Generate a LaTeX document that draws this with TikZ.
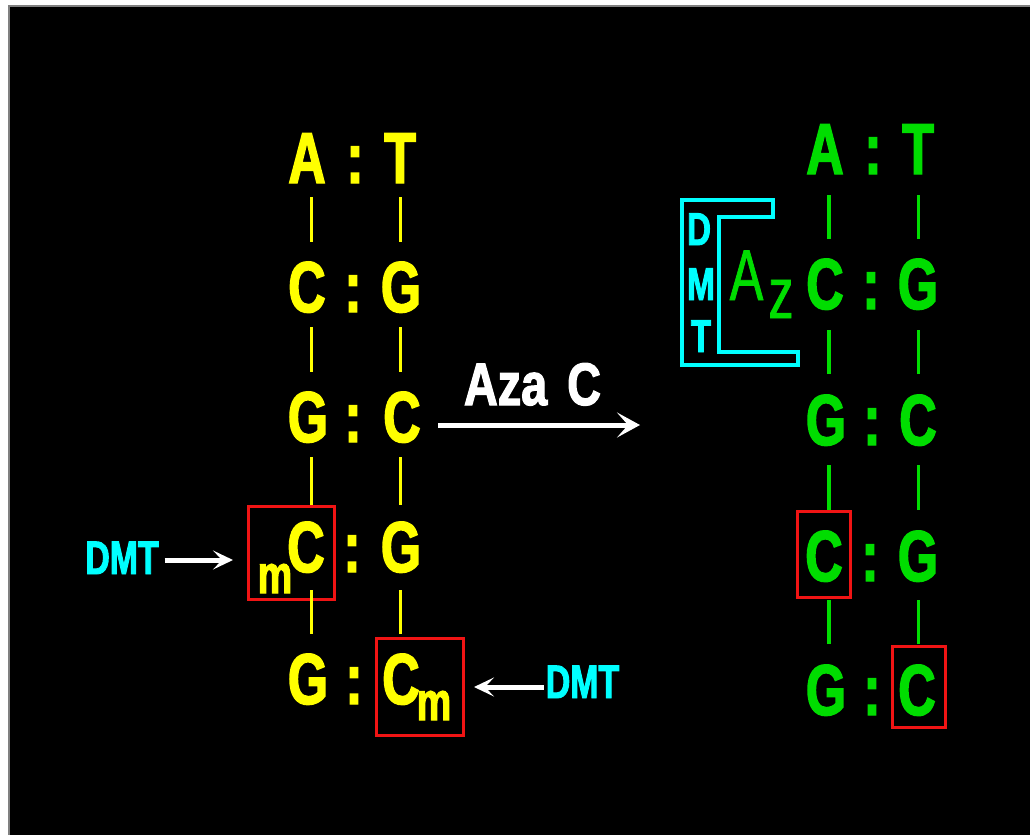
\documentclass[tikz,border=0pt]{standalone}
\usepackage{fontspec}
\setmainfont{Liberation Sans}
\newfontfamily\nar[FakeStretch=0.72,FakeBold=2]{Liberation Sans}
\newfontfamily\narr[FakeStretch=0.70,FakeBold=1]{Liberation Sans}
\newfontfamily\narw[FakeStretch=0.78,FakeBold=2]{Liberation Sans}
\usetikzlibrary{arrows.meta,calc}
\definecolor{dnaY}{RGB}{255,255,0}
\definecolor{dnaG}{RGB}{0,221,0}
\definecolor{dmtC}{RGB}{0,255,255}
\definecolor{boxR}{RGB}{240,20,20}
\newcommand\bondln[6]{\draw[#1] let \p1=(#2.south), \p2=(#3.north) in (#4pt,\y1-#5pt) -- (#4pt,\y2+#6pt);}
\begin{document}
\begin{tikzpicture}[x=1pt,y=-1pt,
  base/.style={inner sep=0pt, outer sep=0pt, anchor=base, text height=52pt, text depth=0pt},
  bigfont/.style={font=\nar\bfseries\fontsize{72pt}{72pt}\selectfont},
  Ylet/.style={base, bigfont, text=dnaY},
  Glet/.style={base, bigfont, text=dnaG},
  subY/.style={inner sep=0pt, anchor=base, text=dnaY, font=\nar\bfseries\fontsize{54pt}{54pt}\selectfont},
  dmtlabel/.style={inner sep=0pt, outer sep=0pt, anchor=base, text=dmtC, font=\nar\bfseries\fontsize{47pt}{47pt}\selectfont},
  dmtv/.style={inner sep=0pt, anchor=base, text=dmtC, font=\nar\bfseries\fontsize{46pt}{46pt}\selectfont},
  azfont/.style={inner sep=0pt, anchor=base, text=dnaG, font=\narr\fontsize{72pt}{72pt}\selectfont},
  bondY/.style={draw=dnaY, line width=3.5pt},
  bondG/.style={draw=dnaG, line width=3.5pt},
  redbox/.style={draw=boxR, line width=3pt, inner sep=0pt, outer sep=0pt},
  whitearrow/.style={draw=white, line width=5pt, -{Stealth[length=20pt,width=19pt,inset=9pt]}},
  mainarrow/.style={draw=white, line width=5pt, -{Stealth[length=23pt,width=25pt,inset=11pt]}},
  bracket/.style={draw=dmtC, line width=4pt, line join=miter}
]
\useasboundingbox (0,0) rectangle (1030,835);
\fill[white] (0,0) rectangle (1030,835);
\fill[black] (9,6) rectangle (1030,835);
\draw[gray, line width=1.5pt] (9,835) -- (9,6) -- (1030,6);

% red boxes
\node[redbox, minimum width=86pt, minimum height=93pt] (b1) at (291,552.5) {};
\node[redbox, minimum width=87pt, minimum height=97pt] (b2) at (419.5,686.5) {};
\node[redbox, minimum width=53pt, minimum height=86pt] (b3) at (823.5,554) {};
\node[redbox, minimum width=53pt, minimum height=81pt] (b4) at (918.5,686.5) {};

% left strand (yellow)
\node[Ylet] (lA1) at (307,183) {A};
\node[Ylet] (lc1) at (355,183) {:};
\node[Ylet] (lT1) at (400,183) {T};
\node[Ylet] (lC2) at (307,312) {C};
\node[Ylet] (lc2) at (353,312) {:};
\node[Ylet] (lG2) at (401,312) {G};
\node[Ylet] (lG3) at (308,442) {G};
\node[Ylet] (lc3) at (353,442) {:};
\node[Ylet] (lC3) at (402,442) {C};
\node[Ylet] (lC4) at (306,572) {C};
\node[subY] (lm4) at (275,593) {m};
\node[Ylet] (lc4) at (352,572) {:};
\node[Ylet] (lG4) at (401,572) {G};
\node[Ylet] (lG5) at (308,704) {G};
\node[Ylet] (lc5) at (354,704) {:};
\node[Ylet] (lC5) at (401,704) {C};
\node[subY] (lm5) at (434,720) {m};

\bondln{bondY}{lA1}{lC2}{311.5}{14}{18}
\bondln{bondY}{lT1}{lG2}{400.5}{14}{18}
\bondln{bondY}{lC2}{lG3}{311.5}{15}{18}
\bondln{bondY}{lG2}{lC3}{400.5}{15}{18}
\bondln{bondY}{lG3}{lC4}{311.5}{15}{15}
\bondln{bondY}{lC3}{lG4}{400.5}{15}{15}
\bondln{bondY}{lC4}{lG5}{311.5}{18}{18}
\bondln{bondY}{lG4}{lC5}{400.5}{18}{18}

% right strand (green)
\node[Glet] (rA1) at (825,174) {A};
\node[Glet] (rc1) at (873,174) {:};
\node[Glet] (rT1) at (918,174) {T};
\node[Glet] (rC2) at (825,309) {C};
\node[Glet] (rc2) at (871,309) {:};
\node[Glet] (rG2) at (918,309) {G};
\node[Glet] (rG3) at (826,445) {G};
\node[Glet] (rc3) at (872,445) {:};
\node[Glet] (rC3) at (918,445) {C};
\node[Glet] (rC4) at (824,581) {C};
\node[Glet] (rc4) at (870,581) {:};
\node[Glet] (rG4) at (918,581) {G};
\node[Glet] (rG5) at (826,715) {G};
\node[Glet] (rc5) at (872,715) {:};
\node[Glet] (rC5) at (917,715) {C};

\bondln{bondG}{rA1}{rC2}{829}{21}{18}
\bondln{bondG}{rT1}{rG2}{918.5}{21}{18}
\bondln{bondG}{rC2}{rG3}{829}{21}{19}
\bondln{bondG}{rG2}{rC3}{918.5}{21}{19}
\bondln{bondG}{rG3}{rC4}{829}{20}{19}
\bondln{bondG}{rC3}{rG4}{918.5}{20}{19}
\bondln{bondG}{rC4}{rG5}{829}{19}{19}
\bondln{bondG}{rG4}{rC5}{918.5}{19}{19}

% DMT bracket with Az
\draw[bracket] (682,200) -- (773,200) -- (773,217) -- (719,217) -- (719,352) -- (798,352) -- (798,365) -- (682,365) -- cycle;
\node[dmtv] (dD) at (699,245) {D};
\node[dmtv] (dM) at (701,300) {M};
\node[dmtv] (dT) at (701,352) {T};
\node[azfont] (azA) at (746.5,300) {A};
\node[azfont] (azz) at (781,318) {z};

% reaction arrow
\coordinate (arrS) at (438,425);
\coordinate (arrE) at (640,425);
\draw[mainarrow] (arrS) -- (arrE);
\node[inner sep=0pt, anchor=base, text=white, font=\narw\bfseries\fontsize{60pt}{60pt}\selectfont] (aza) at (532.5,405) {Aza\hspace{20pt}C};

% DMT arrows
\node[dmtlabel, text height=28pt, text depth=0pt] (dmtL) at (122,574) {DMT};
\node[dmtlabel, text height=22pt, text depth=0pt] (dmtR) at (582.5,698) {DMT};
\draw[whitearrow, shorten <=6pt, shorten >=15pt] (dmtL.east) -- (dmtL.east -| b1.west);
\draw[whitearrow, shorten <=2pt, shorten >=11pt] (dmtR.west) -- (dmtR.west -| b2.east);
\end{tikzpicture}
\end{document}
